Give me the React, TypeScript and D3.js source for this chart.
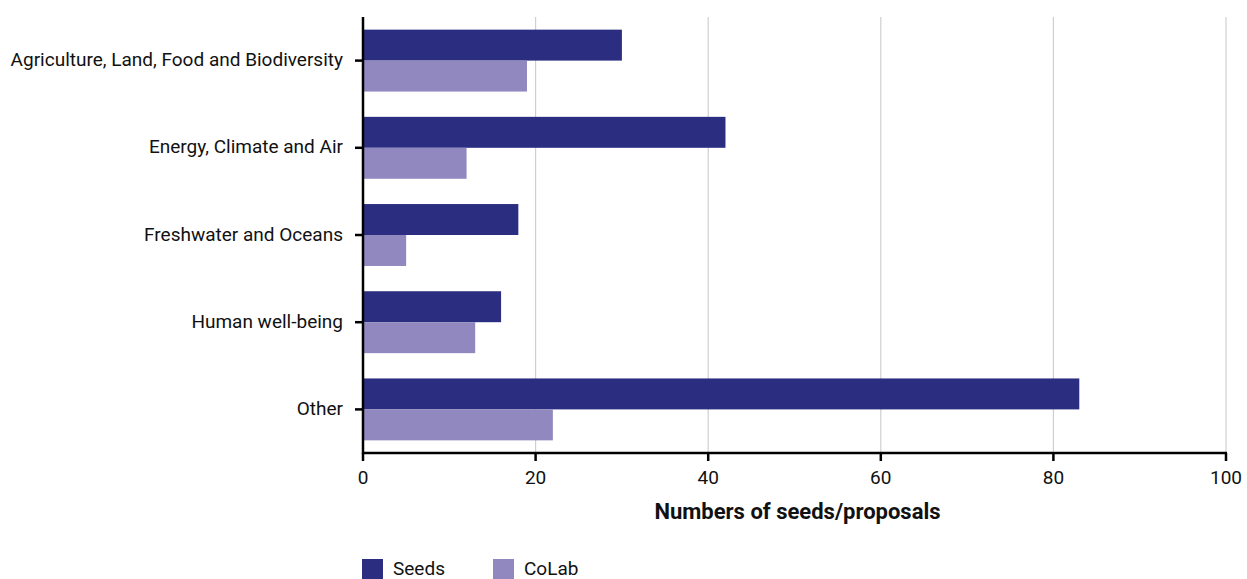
import React from "react";
import * as d3 from "d3";

const categories = [
  "Agriculture, Land, Food and Biodiversity",
  "Energy, Climate and Air",
  "Freshwater and Oceans",
  "Human well-being",
  "Other",
];
const seeds = [30, 42, 18, 16, 83];
const colab = [19, 12, 5, 13, 22];
const series = ["Seeds", "CoLab"];
const xTicks = [0, 20, 40, 60, 80, 100];

const W = 1247;
const H = 579;
const left = 363;
const right = 1226;
const top = 17;
const bottom = 453;
const colors = ["#2b2d80", "#9088be"];
const font = "Roboto, 'Noto Sans', sans-serif";

export default function App() {
  const x = d3.scaleLinear().domain([0, 100]).range([left, right]);
  const y = d3
    .scaleBand<string>()
    .domain(categories)
    .range([top, bottom])
    .paddingInner(0.29)
    .paddingOuter(0.145);
  const sub = d3.scaleBand<string>().domain(series).range([0, y.bandwidth()]);
  const data = [seeds, colab];

  return (
    <svg
      width={W}
      height={H}
      style={{ position: "absolute", left: 0, top: 0, background: "#fff" }}
      fontFamily={font}
    >
      {xTicks.slice(1).map((t) => (
        <line key={"g" + t} x1={x(t)} x2={x(t)} y1={top} y2={bottom} stroke="#cfcfcf" strokeWidth={1.2} />
      ))}
      {categories.map((c, i) =>
        series.map((s, j) => (
          <rect
            key={c + s}
            x={x(0)}
            y={(y(c) as number) + (sub(s) as number)}
            width={x(data[j][i]) - x(0)}
            height={sub.bandwidth()}
            fill={colors[j]}
          />
        ))
      )}
      {/* y axis */}
      <line x1={left} x2={left} y1={top} y2={bottom + 1} stroke="#000" strokeWidth={2.5} />
      {categories.map((c) => {
        const cy = (y(c) as number) + y.bandwidth() / 2;
        return (
          <g key={"yl" + c}>
            <line x1={left - 8} x2={left} y1={cy} y2={cy} stroke="#000" strokeWidth={2.5} />
            <text x={left - 20} y={cy - 1} dy="0.35em" textAnchor="end" fontSize={19} fill="#111">
              {c}
            </text>
          </g>
        );
      })}
      {/* x axis */}
      <line x1={left - 1} x2={right + 1} y1={bottom} y2={bottom} stroke="#000" strokeWidth={2.5} />
      {xTicks.map((t) => (
        <g key={"xt" + t}>
          <line x1={x(t)} x2={x(t)} y1={bottom} y2={bottom + 8} stroke="#000" strokeWidth={2.5} />
          <text x={x(t)} y={484} textAnchor="middle" fontSize={19} fill="#111">
            {t}
          </text>
        </g>
      ))}
      <text x={(left + right) / 2 + 3} y={519} textAnchor="middle" fontSize={22} fontWeight="bold" fill="#111">
        Numbers of seeds/proposals
      </text>
      {/* legend */}
      {series.map((s, j) => (
        <g key={"lg" + s} transform={`translate(${362 + j * 131},559)`}>
          <rect x={0} y={0} width={21} height={21} fill={colors[j]} />
          <text x={31} y={15.5} fontSize={19} fill="#111">
            {s}
          </text>
        </g>
      ))}
    </svg>
  );
}
